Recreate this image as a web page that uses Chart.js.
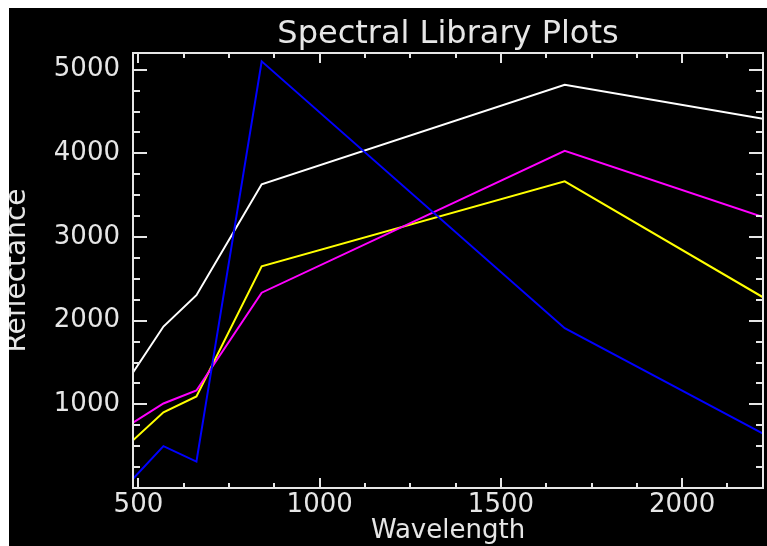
<!DOCTYPE html>
<html lang="en">

<head>
    <meta charset="UTF-8">
    <title>Spectral Library Plots</title>
    <style>
        body { margin: 0; background: #fff; }
        #frame { position: absolute; left: 9px; top: 8px; width: 758px; height: 538px; background: #000; }
    </style>
</head>

<body>
    <div id="frame">
        <canvas id="canvas_spectra" width="758" height="538"></canvas>
    </div>
</body>

</html>
<script src="https://cdn.jsdelivr.net/npm/chart.js"></script>
<script>
    // band centres (nm) and reflectance per library spectrum
    const wavelengths = [485, 569, 660, 840, 1676, 2223];
    const whiteSpec = [1380, 1930, 2305, 3630, 4820, 4415];
    const yellowSpec = [570, 905, 1095, 2650, 3665, 2280];
    const magentaSpec = [780, 1010, 1165, 2335, 4030, 3240];
    const blueSpec = [110, 500, 315, 5100, 1910, 650];

    // tick positions (major ones get a label)
    const xTicks = [500, 625, 750, 875, 1000, 1125, 1250, 1375, 1500, 1625, 1750, 1875, 2000, 2125];
    const xLabels = [500, 1000, 1500, 2000];
    const yTicks = [0, 250, 500, 750, 1000, 1250, 1500, 1750, 2000, 2250, 2500, 2750,
        3000, 3250, 3500, 3750, 4000, 4250, 4500, 4750, 5000];
    const yLabels = [1000, 2000, 3000, 4000, 5000];

    const axisColor = '#e6e6e6';
    const fonte = 'DejaVu Sans';

    function pares(valores) {
        return wavelengths.map((w, i) => ({ x: w, y: valores[i] }));
    }

    function serie(valores, cor) {
        return {
            data: pares(valores),
            borderColor: cor,
            borderWidth: 2,
            pointRadius: 0,
            tension: 0,
        };
    }

    // IDL style box with ticks pointing inwards
    const ticksInternos = {
        id: 'ticksInternos',
        afterDatasetsDraw(chart) {
            const { ctx, chartArea: a, scales } = chart;
            ctx.save();
            ctx.strokeStyle = axisColor;
            ctx.lineWidth = 2;
            ctx.beginPath();
            scales.x.ticks.forEach(t => {
                const px = Math.round(scales.x.getPixelForValue(t.value));
                const len = xLabels.includes(t.value) ? 10 : 5;
                ctx.moveTo(px, a.bottom); ctx.lineTo(px, a.bottom - len);
                ctx.moveTo(px, a.top); ctx.lineTo(px, a.top + len);
            });
            scales.y.ticks.forEach(t => {
                const py = Math.round(scales.y.getPixelForValue(t.value));
                const len = yLabels.includes(t.value) ? 14 : 7;
                ctx.moveTo(a.left, py); ctx.lineTo(a.left + len, py);
                ctx.moveTo(a.right, py); ctx.lineTo(a.right - len, py);
            });
            ctx.stroke();
            ctx.strokeRect(a.left, a.top, a.width, a.height);
            ctx.restore();
        }
    };

    Chart.defaults.color = axisColor;
    Chart.defaults.font.family = fonte;

    new Chart(document.getElementById('canvas_spectra'), {
        type: 'line',
        data: {
            datasets: [
                serie(blueSpec, '#0000ff'),
                serie(magentaSpec, '#ff00ff'),
                serie(yellowSpec, '#ffff00'),
                serie(whiteSpec, '#ffffff'),
            ]
        },
        options: {
            responsive: false,
            animation: false,
            layout: { padding: { left: 0, top: 0, right: 4, bottom: 0 } },
            plugins: {
                legend: { display: false },
                tooltip: { enabled: false },
                title: {
                    display: true,
                    text: 'Spectral Library Plots',
                    fullSize: false,
                    color: axisColor,
                    font: { size: 32, weight: 'normal', lineHeight: 1 },
                    padding: { top: 11, bottom: 2 },
                },
            },
            scales: {
                x: {
                    type: 'linear',
                    min: 485,
                    max: 2223,
                    grid: { display: false, drawTicks: false },
                    border: { display: false },
                    afterBuildTicks: s => { s.ticks = xTicks.map(v => ({ value: v })); },
                    ticks: {
                        autoSkip: false,
                        maxRotation: 0,
                        minRotation: 0,
                        padding: 2,
                        font: { size: 26 },
                        callback: v => (xLabels.includes(v) ? String(v) : ''),
                    },
                    title: {
                        display: true,
                        text: 'Wavelength',
                        font: { size: 26 },
                        padding: { top: 0, bottom: -1 },
                    },
                    afterFit: s => { s.height = 58; },
                },
                y: {
                    min: 0,
                    max: 5200,
                    grid: { display: false, drawTicks: false },
                    border: { display: false },
                    afterBuildTicks: s => { s.ticks = yTicks.map(v => ({ value: v })); },
                    ticks: {
                        autoSkip: false,
                        padding: 13,
                        font: { size: 26 },
                        callback: v => (yLabels.includes(v) ? String(v) : ''),
                    },
                    title: {
                        display: true,
                        text: 'Reflectance',
                        font: { size: 28, lineHeight: 0.65 },
                        padding: 0,
                    },
                    afterFit: s => { s.width = 124; },
                },
            },
        },
        plugins: [ticksInternos],
    });
</script>
